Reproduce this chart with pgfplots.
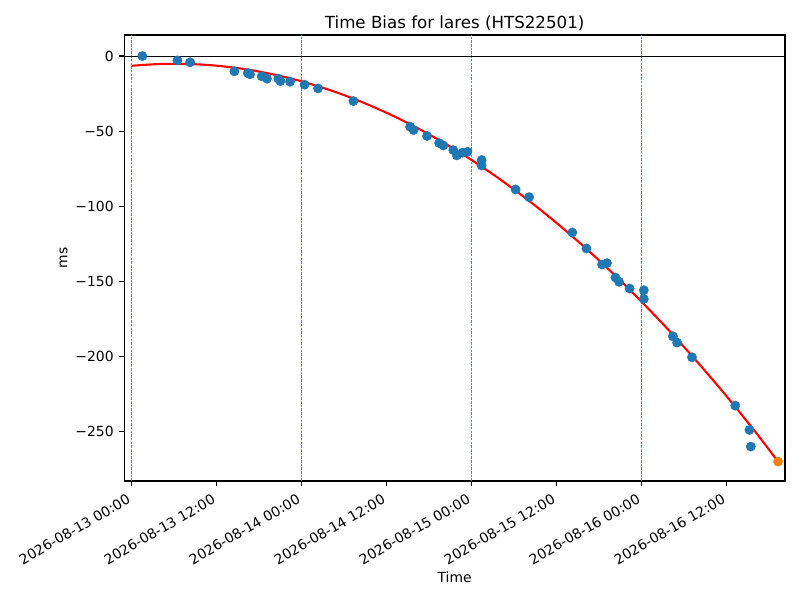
\documentclass[border=0pt]{standalone}
\usepackage{fontspec}
\setmainfont{DejaVu Sans}
\usepackage{graphicx}
\usepackage{pgfplots}
\pgfplotsset{compat=1.18}
\definecolor{cblue}{HTML}{1F77B4}
\definecolor{corange}{HTML}{FF7F0E}
\definecolor{gridc}{HTML}{5B8DB8}
\newcommand{\tl}[1]{\rotatebox{30}{#1}}
\begin{document}
\begin{tikzpicture}
\begin{axis}[
  at={(0,0)}, anchor=south west,
  scale only axis, width=475.7pt, height=321.1pt,
  xmin=-1.045, xmax=92.23, ymin=-283.1, ymax=14,
  axis line style={line width=0.8pt},
  tick align=outside, major tick length=3.5pt,
  xtick pos=bottom, ytick pos=left,
  tick style={line width=0.8pt, black},
  xtick={0,12,24,36,48,60,72,84},
  xticklabels={\tl{2026-08-13 00:00},\tl{2026-08-13 12:00},\tl{2026-08-14 00:00},\tl{2026-08-14 12:00},\tl{2026-08-15 00:00},\tl{2026-08-15 12:00},\tl{2026-08-16 00:00},\tl{2026-08-16 12:00}},
  xticklabel style={anchor=north east, inner sep=0pt, yshift=-5.4pt, font=\fontsize{10}{12}\selectfont},
  extra x ticks={0,24,48,72},
  extra x tick labels={},
  extra x tick style={grid=major, major tick length=0pt, major grid style={gridc, line width=0.5pt, dash pattern=on 1.85pt off 0.8pt}},
  ytick={-250,-200,-150,-100,-50,0},
  yticklabels={−250,−200,−150,−100,−50,0},
  yticklabel style={anchor=east, inner sep=0pt, xshift=-4pt, font=\fontsize{10}{12}\selectfont},
  title={Time Bias for lares (HTS22501)},
  title style={font=\fontsize{12}{14}\selectfont, at={(axis description cs:0.5,1.0156)}, anchor=base, yshift=-6pt, inner sep=0pt},
  xlabel={Time},
  xlabel style={font=\fontsize{10}{12}\selectfont, at={(axis description cs:0.5,-0.215)}, anchor=center, inner sep=0pt},
  ylabel={ms},
  ylabel style={font=\fontsize{10}{12}\selectfont, at={(axis description cs:-0.092,0.5)}, anchor=center, inner sep=0pt},
  clip=true,
]
\addplot[black, line width=0.6pt] coordinates {(-5,0) (100,0)};
\addplot[red, line width=1.5pt, smooth] coordinates {
(0,-6.5) (4,-5.31) (8,-5.29) (12,-6.44) (16,-8.75) (20,-12.23) (24,-16.88)
(28,-22.70) (32,-29.68) (36,-37.83) (40,-47.15) (44,-57.64) (48,-69.30)
(52,-82.12) (56,-96.11) (60,-111.27) (64,-127.60) (68,-145.08) (72,-163.75)
(76,-183.58) (80,-204.57) (84,-226.74) (88,-250.07) (91.25,-270.2)};
\addplot[only marks, mark=*, mark size=3.3pt, color=cblue] coordinates {
(1.5,0) (6.45,-2.9) (8.25,-4.2) (14.5,-10.2) (16.4,-11.3) (16.7,-12.2)
(18.35,-13.5) (19.1,-15.1) (20.7,-15.1) (21.0,-16.7) (22.35,-17.1)
(24.4,-19.1) (26.3,-21.6) (31.3,-30) (39.3,-47.1) (39.8,-49.3) (41.7,-53.3)
(43.4,-58) (44.0,-59.6) (45.4,-62.7) (45.9,-66.2) (46.7,-64.4) (47.4,-63.8)
(49.4,-69.3) (49.4,-72.9) (54.2,-88.9) (56.1,-94) (62.2,-117.6) (64.2,-128.2)
(66.4,-138.9) (67.1,-138) (68.3,-147.6) (68.8,-150.4) (70.3,-154.9)
(72.3,-156) (72.3,-161.8) (76.4,-186.7) (77.0,-190.9) (79.1,-200.7)
(85.2,-232.9) (87.2,-249.1) (87.4,-260.2)};
\addplot[only marks, mark=*, mark size=3.3pt, color=corange] coordinates {(91.25,-270.2)};
\end{axis}
\pgfresetboundingbox
\path[use as bounding box] (-89.5pt,-85.68pt) rectangle (486.5pt,346.3pt);
\end{tikzpicture}
\end{document}
